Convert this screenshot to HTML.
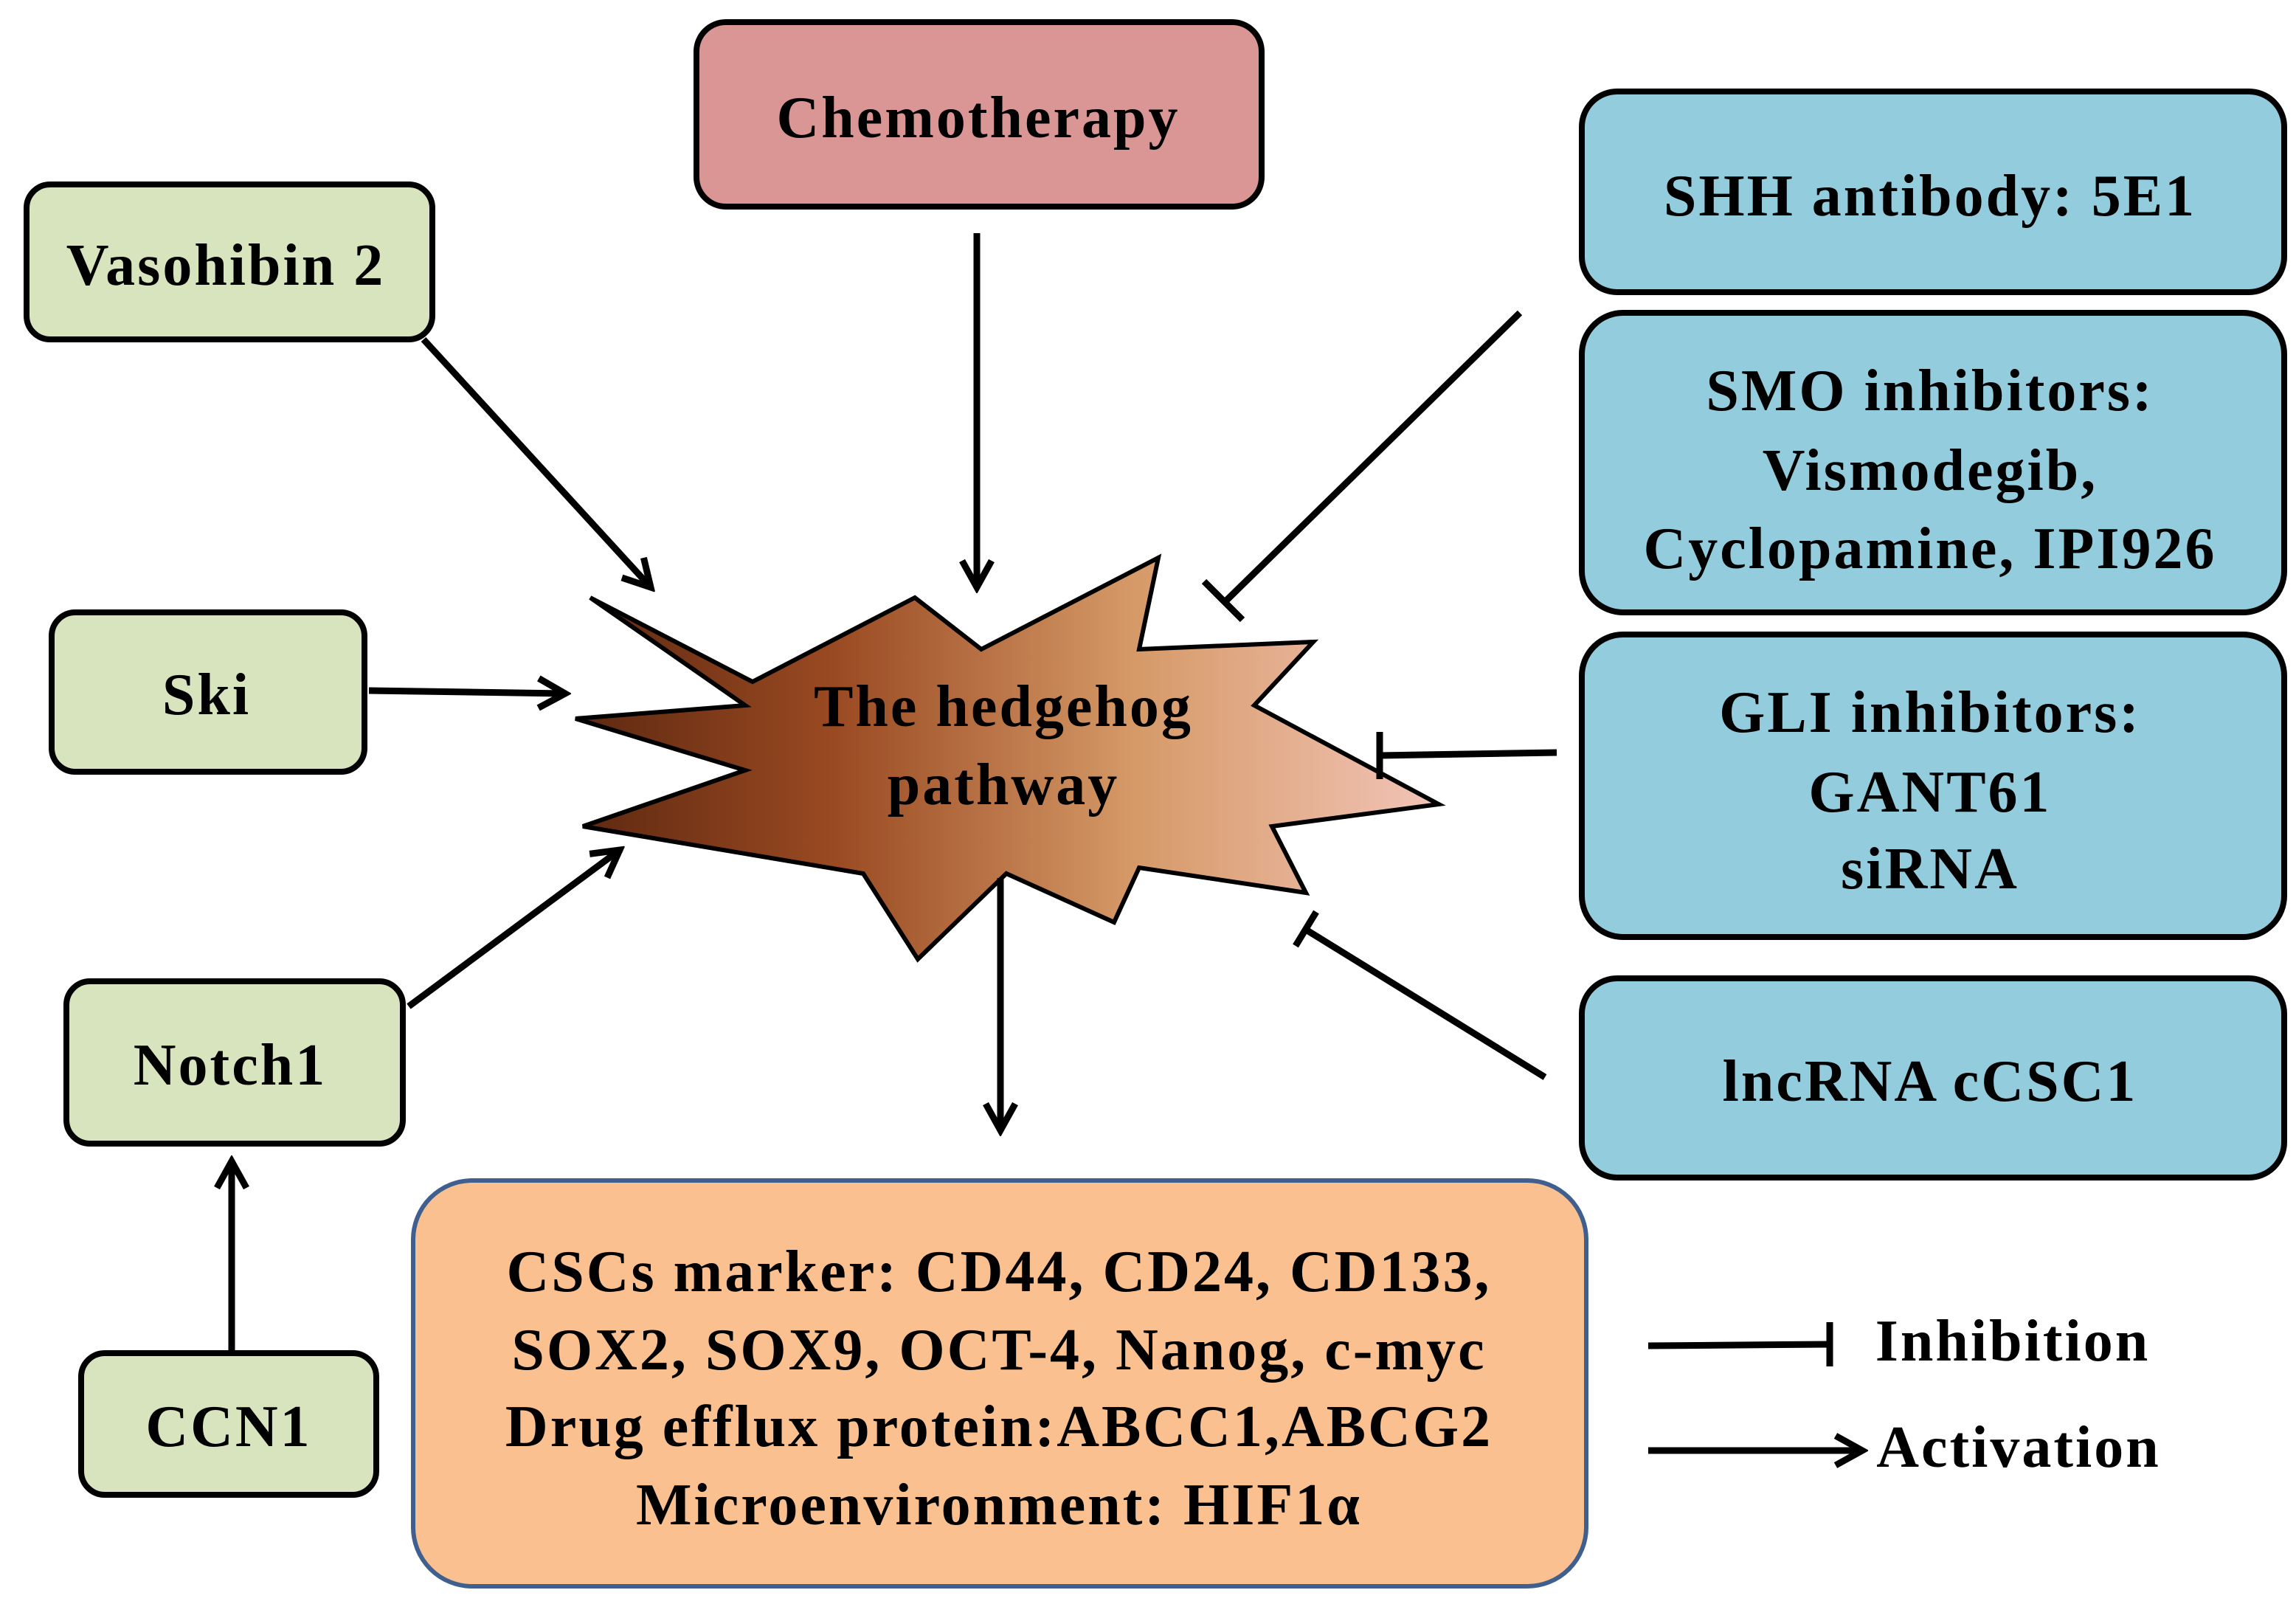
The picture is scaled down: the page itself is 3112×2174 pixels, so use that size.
<!DOCTYPE html>
<html><head><meta charset="utf-8"><style>
html,body{margin:0;padding:0;background:#fff;}
svg{display:block;}
text{font-family:"Liberation Serif",serif;font-weight:bold;font-size:40px;letter-spacing:1.5px;fill:#000;text-anchor:middle;}
</style></head><body>
<svg width="3112" height="2174" viewBox="0 0 1556 1087" xmlns="http://www.w3.org/2000/svg">
<defs>
<linearGradient id="g" x1="0" x2="1" y1="0" y2="0">
<stop offset="0" stop-color="#5e2810"/>
<stop offset="0.3" stop-color="#9a4a22"/>
<stop offset="0.65" stop-color="#d69a68"/>
<stop offset="1" stop-color="#f2c4b8"/>
</linearGradient>
<marker id="a" markerWidth="24" markerHeight="24" refX="20" refY="12" orient="auto" markerUnits="userSpaceOnUse" viewBox="0 0 24 24">
<polyline points="2,2 20,12 2,22" fill="none" stroke="#000" stroke-width="4.5"/>
</marker>
</defs>
<g stroke="#000" stroke-width="4">
<rect x="472" y="15" width="383" height="125" rx="20" fill="#d99694"/>
<rect x="18" y="125" width="275" height="105" rx="16" fill="#d7e4bd"/>
<rect x="35" y="415" width="212" height="108" rx="16" fill="#d7e4bd"/>
<rect x="45" y="665" width="228" height="110" rx="16" fill="#d7e4bd"/>
<rect x="55" y="917" width="200" height="96" rx="16" fill="#d7e4bd"/>
<rect x="1072" y="62" width="476" height="136" rx="24" fill="#93cddd"/>
<rect x="1072" y="212" width="476" height="203" rx="28" fill="#93cddd"/>
<rect x="1072" y="430" width="476" height="205" rx="28" fill="#93cddd"/>
<rect x="1072" y="663" width="476" height="135" rx="24" fill="#93cddd"/>
</g>
<rect x="280" y="800" width="795" height="275" rx="40" fill="#fac090" stroke="#3f5f8f" stroke-width="3"/>
<polygon fill="url(#g)" stroke="#000" stroke-width="3" points="400,405 510,462 620,405 665,440 785,378 772,440 890,435 850,478 975,545 862,560 885,605 772,588 755,625 682,592 622,650 585,592 395,560 505,522 390,487 505,478"/>
<g stroke="#000" stroke-width="4.5" fill="none">
<line x1="287" y1="230" x2="441" y2="398" marker-end="url(#a)"/>
<line x1="662" y1="158" x2="662" y2="398" marker-end="url(#a)"/>
<line x1="250" y1="468" x2="383" y2="470" marker-end="url(#a)"/>
<line x1="277" y1="682" x2="420" y2="576" marker-end="url(#a)"/>
<line x1="157" y1="915" x2="157" y2="787" marker-end="url(#a)"/>
<line x1="678" y1="595" x2="678" y2="766" marker-end="url(#a)"/>
<line x1="1030" y1="212" x2="830" y2="408"/>
<line x1="816" y1="394" x2="842" y2="420"/>
<line x1="1055" y1="510" x2="935" y2="512"/>
<line x1="935" y1="496" x2="935" y2="528"/>
<line x1="1047" y1="730" x2="885" y2="630"/>
<line x1="878" y1="641" x2="892" y2="618"/>
<line x1="1117" y1="912" x2="1240" y2="911"/>
<line x1="1240" y1="896" x2="1240" y2="926"/>
<line x1="1117" y1="983" x2="1262" y2="983" marker-end="url(#a)"/>
</g>
<text x="663" y="93">Chemotherapy</text>
<text x="153" y="193">Vasohibin 2</text>
<text x="140" y="484">Ski</text>
<text x="156" y="735">Notch1</text>
<text x="155" y="980">CCN1</text>
<text x="1308" y="146">SHH antibody: 5E1</text>
<text x="1308" y="278">SMO inhibitors:</text>
<text x="1308" y="332">Vismodegib,</text>
<text x="1308" y="385">Cyclopamine, IPI926</text>
<text x="1308" y="496">GLI inhibitors:</text>
<text x="1308" y="550">GANT61</text>
<text x="1308" y="602">siRNA</text>
<text x="1308" y="746">lncRNA cCSC1</text>
<text x="680" y="492">The hedgehog</text>
<text x="680" y="545">pathway</text>
<text x="677" y="875">CSCs marker: CD44, CD24, CD133,</text>
<text x="677" y="928">SOX2, SOX9, OCT-4, Nanog, c-myc</text>
<text x="677" y="980">Drug efflux protein:ABCC1,ABCG2</text>
<text x="677" y="1033">Microenvironment: HIF1α</text>
<text x="1364" y="922">Inhibition</text>
<text x="1368" y="994">Activation</text>
</svg>
</body></html>
